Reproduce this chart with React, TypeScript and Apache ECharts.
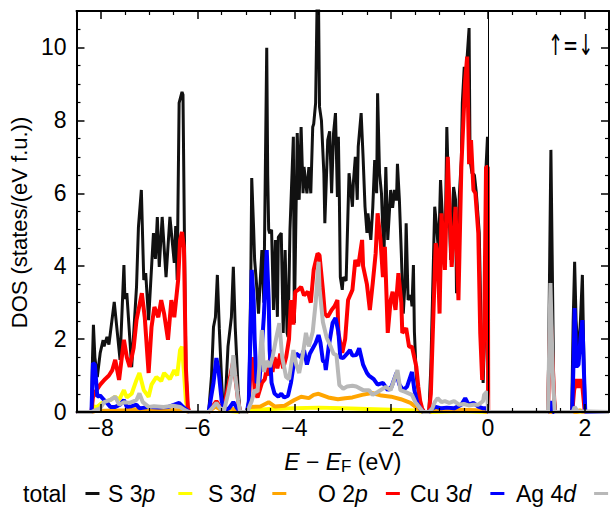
import React, { useEffect, useRef } from "react";
import * as echarts from "echarts";

const FONT = "'Liberation Sans', Arial, Helvetica, sans-serif";

const xRange = [-8.5, 2.5];
const yRange = [0, 11];
const seriesNames = ["total", "S 3p", "S 3d", "O 2p", "Cu 3d", "Ag 4d"];
const seriesColors = ["#111111", "#ffff00", "#ffa500", "#ff0000", "#0000ff", "#b8b8b8"];
const seriesWidths = [3, 4, 4, 4, 4, 4];

const totalDos: number[][] = [
  [-8.5, 0], [-8.19, 0], [-8.17, 1.43], [-8.15, 2.39], [-8.12, 1.5], [-8.07, 0.96], [-8.01, 1.62], [-7.95, 1.97],
  [-7.93, 1.8], [-7.87, 2.06], [-7.83, 1.85], [-7.72, 3.02], [-7.6, 1.43], [-7.52, 4.03], [-7.5, 3.1], [-7.46, 3.26],
  [-7.36, 1.23], [-7.26, 3.43], [-7.22, 5.08], [-7.16, 6.09], [-7.11, 3.62], [-7.07, 3.81], [-7.01, 2.52], [-6.91, 4.91],
  [-6.87, 4.2], [-6.83, 5.35], [-6.79, 3.98], [-6.73, 5.35], [-6.65, 3.7], [-6.57, 5.35], [-6.48, 4.09], [-6.45, 5.1],
  [-6.42, 3.62], [-6.4, 6.09], [-6.38, 8.48], [-6.32, 8.78], [-6.3, 8.7], [-6.27, 4.8], [-6.24, 1.2], [-6.2, 0.15], [-6.17, 0],
  [-5.77, 0], [-5.71, 1.0], [-5.67, 2.33], [-5.63, 2.6], [-5.59, 3.76], [-5.55, 2.3], [-5.5, 0.8], [-5.47, 0.1], [-5.43, 0.2],
  [-5.37, 1.8], [-5.3, 2.6], [-5.26, 3.98], [-5.22, 2.3], [-5.16, 0.6], [-5.12, 0],
  [-4.98, 0], [-4.94, 0.3], [-4.9, 3.5], [-4.88, 6.42], [-4.84, 5.0], [-4.82, 4.17], [-4.78, 3.5], [-4.74, 2.7], [-4.67, 4.44],
  [-4.63, 3.0], [-4.57, 9.99], [-4.55, 6.5], [-4.53, 5.0], [-4.51, 4.9], [-4.47, 5.0], [-4.43, 2.8], [-4.39, 4.72], [-4.35, 2.61],
  [-4.33, 4.8], [-4.27, 4.91], [-4.23, 2.17], [-4.19, 4.44], [-4.15, 2.17], [-4.13, 2.06], [-4.09, 5.0], [-4.02, 7.55], [-4.0, 2.44],
  [-3.94, 7.65], [-3.9, 5.82], [-3.86, 7.82], [-3.82, 6.0], [-3.8, 6.72], [-3.74, 6.0], [-3.7, 6.72], [-3.66, 6.0], [-3.62, 7.82],
  [-3.6, 7.9], [-3.56, 8.48], [-3.53, 11.2], [-3.5, 11.2], [-3.48, 8.37], [-3.44, 8.0], [-3.39, 6.55], [-3.37, 5.18], [-3.31, 7.46],
  [-3.27, 7.7], [-3.23, 6.0], [-3.19, 7.65], [-3.15, 8.2], [-3.11, 5.9], [-3.09, 7.55], [-3.07, 5.9], [-3.05, 3.7], [-3.01, 3.35],
  [-2.99, 3.7], [-2.93, 3.6], [-2.87, 6.55], [-2.8, 5.63], [-2.78, 6.3], [-2.74, 7.0], [-2.7, 5.82], [-2.68, 7.28], [-2.62, 8.2],
  [-2.58, 7.0], [-2.54, 5.63], [-2.5, 4.91], [-2.48, 5.45], [-2.42, 4.72], [-2.38, 5.6], [-2.34, 6.91], [-2.3, 6.0], [-2.28, 8.74],
  [-2.24, 6.55], [-2.2, 6.0], [-2.15, 4.17], [-2.11, 6.72], [-2.07, 4.72], [-2.01, 6.09], [-1.97, 5.6], [-1.93, 6.09], [-1.89, 5.8],
  [-1.87, 6.81], [-1.83, 5.82], [-1.79, 4.35], [-1.75, 2.7], [-1.71, 3.62], [-1.69, 5.18], [-1.65, 3.07], [-1.59, 3.2], [-1.57, 2.9],
  [-1.54, 4.03], [-1.52, 2.2], [-1.48, 0.96], [-1.42, 0.4], [-1.38, 0.14], [-1.32, 0],
  [-1.22, 0], [-1.18, 1.24], [-1.1, 5.63], [-1.06, 5.08], [-1.02, 4.35], [-0.98, 6.36], [-0.94, 5.3], [-0.89, 3.98], [-0.85, 7.82],
  [-0.81, 5.82], [-0.77, 4.17], [-0.75, 5.0], [-0.71, 6.17], [-0.67, 5.82], [-0.65, 3.26], [-0.59, 6.0], [-0.55, 6.91], [-0.53, 8.48],
  [-0.49, 9.47], [-0.47, 8.8], [-0.43, 9.75], [-0.39, 10.53], [-0.37, 6.91], [-0.33, 6.55], [-0.28, 6.5], [-0.24, 6.0], [-0.18, 4.91],
  [-0.14, 2.17], [-0.1, 0.8], [-0.06, 2.5], [-0.04, 6.72], [-0.01, 7.55], [0.005, 0],
  [1.24, 0], [1.3, 7.19], [1.36, 0.5], [1.4, 0], [1.73, 0], [1.76, 2.5], [1.79, 4.12], [1.82, 2.5], [1.87, 1.52], [1.91, 2.5],
  [1.95, 3.76], [1.98, 1.5], [2.01, 0], [2.5, 0],
];

const s3p: number[][] = [
  [-8.5, 0], [-8.19, 0], [-8.15, 0.15], [-8.07, 0.14], [-7.97, 0.25], [-7.8, 0.33], [-7.7, 0.42], [-7.62, 0.33], [-7.52, 0.6],
  [-7.46, 0.4], [-7.36, 0.5], [-7.26, 0.88], [-7.2, 1.07], [-7.11, 0.6], [-7.01, 0.42], [-6.95, 0.75], [-6.85, 0.96], [-6.75, 0.85],
  [-6.69, 1.07], [-6.57, 0.9], [-6.48, 1.15], [-6.42, 1.0], [-6.36, 1.7], [-6.32, 1.79], [-6.28, 1.1], [-6.24, 0.3], [-6.2, 0.05], [-6.17, 0],
  [-5.77, 0], [-5.63, 0.2], [-5.5, 0.05], [-5.12, 0],
  [-4.98, 0], [-4.94, 0.05], [-4.5, 0.08], [-4.0, 0.1], [-3.5, 0.12], [-3.0, 0.1], [-2.5, 0.08], [-2.0, 0.06], [-1.5, 0.04], [-1.34, 0],
  [-1.2, 0], [-0.6, 0.03], [0, 0], [2.5, 0],
];

const s3d: number[][] = [
  [-8.5, 0], [-8.19, 0], [-8.1, 0.03], [-7.5, 0.05], [-7.2, 0.08], [-6.8, 0.05], [-6.3, 0.05], [-6.17, 0],
  [-5.77, 0], [-5.63, 0.15], [-5.5, 0.05], [-5.3, 0.1], [-5.12, 0],
  [-4.98, 0], [-4.94, 0.14], [-4.7, 0.15], [-4.53, 0.27], [-4.4, 0.15], [-4.2, 0.17], [-4.0, 0.33], [-3.86, 0.42], [-3.7, 0.38],
  [-3.6, 0.47], [-3.5, 0.5], [-3.3, 0.4], [-3.1, 0.35], [-2.95, 0.38], [-2.8, 0.4], [-2.6, 0.47], [-2.4, 0.52], [-2.2, 0.45],
  [-2.0, 0.42], [-1.8, 0.35], [-1.6, 0.25], [-1.5, 0.15], [-1.4, 0.05], [-1.34, 0],
  [-1.22, 0], [-1.1, 0.05], [-0.6, 0.06], [-0.2, 0.05], [0.005, 0], [1.85, 0], [1.9, 0.05], [1.95, 0], [2.5, 0],
];

const o2p: number[][] = [
  [-8.5, 0], [-8.19, 0], [-8.16, 0.4], [-8.11, 0.55], [-8.01, 0.75], [-7.91, 0.9], [-7.83, 1.0], [-7.76, 1.15], [-7.7, 1.43],
  [-7.62, 0.88], [-7.52, 1.98], [-7.46, 1.5], [-7.4, 1.24], [-7.32, 1.75], [-7.26, 2.52], [-7.15, 3.26], [-7.09, 2.6], [-7.01, 1.07],
  [-6.95, 2.33], [-6.89, 2.88], [-6.81, 2.6], [-6.75, 3.07], [-6.69, 2.7], [-6.61, 1.98], [-6.54, 3.07], [-6.48, 2.6], [-6.4, 3.62],
  [-6.36, 4.72], [-6.32, 4.94], [-6.28, 4.5], [-6.24, 1.2], [-6.2, 0.14], [-6.17, 0],
  [-5.77, 0], [-5.61, 0.3], [-5.47, 0.02], [-5.26, 1.4], [-5.16, 0.3], [-5.12, 0],
  [-4.98, 0], [-4.94, 0.2], [-4.9, 1.3], [-4.86, 1.5], [-4.82, 0.6], [-4.76, 0.4], [-4.67, 0.8], [-4.61, 0.9], [-4.57, 1.2],
  [-4.53, 1.0], [-4.49, 1.7], [-4.45, 1.1], [-4.41, 1.5], [-4.35, 1.2], [-4.29, 1.6], [-4.23, 1.2], [-4.17, 1.5], [-4.11, 2.0],
  [-4.07, 3.07], [-4.02, 2.4], [-3.98, 3.3], [-3.92, 3.35], [-3.86, 3.43], [-3.8, 3.2], [-3.72, 3.3], [-3.66, 3.0], [-3.6, 3.9],
  [-3.52, 4.35], [-3.48, 4.3], [-3.41, 3.35], [-3.37, 2.7], [-3.31, 2.61], [-3.23, 2.8], [-3.17, 2.9], [-3.11, 3.07], [-3.09, 2.17],
  [-3.01, 1.62], [-2.95, 2.0], [-2.89, 3.07], [-2.8, 3.35], [-2.74, 4.17], [-2.68, 4.0], [-2.6, 4.72], [-2.58, 4.0], [-2.5, 3.5],
  [-2.44, 2.8], [-2.38, 3.54], [-2.32, 4.35], [-2.28, 5.45], [-2.22, 4.72], [-2.17, 3.7], [-2.13, 4.53], [-2.07, 2.17], [-2.01, 3.07],
  [-1.97, 3.3], [-1.91, 2.8], [-1.85, 3.81], [-1.79, 3.0], [-1.77, 2.17], [-1.69, 2.3], [-1.63, 1.79], [-1.57, 1.79], [-1.48, 1.24],
  [-1.44, 0.7], [-1.4, 0.3], [-1.36, 0.1], [-1.32, 0],
  [-1.22, 0], [-1.18, 0.5], [-1.08, 4.63], [-1.04, 4.35], [-1.0, 2.7], [-0.96, 5.45], [-0.89, 3.9], [-0.83, 7.0], [-0.79, 5.5],
  [-0.75, 3.98], [-0.67, 5.63], [-0.61, 3.07], [-0.55, 6.72], [-0.51, 7.92], [-0.47, 9.1], [-0.43, 9.75], [-0.39, 6.8], [-0.35, 7.46],
  [-0.3, 6.09], [-0.26, 6.0], [-0.2, 4.91], [-0.16, 2.17], [-0.12, 0.88], [-0.08, 2.0], [-0.04, 6.72], [-0.005, 6.72], [0.005, 0],
  [1.24, 0], [1.29, 2.8], [1.33, 1.5], [1.38, 0], [1.74, 0], [1.78, 0.6], [1.83, 0.9], [1.87, 0.66], [1.91, 0.9], [1.95, 0.7],
  [2.0, 0], [2.5, 0],
];

const cu3d: number[][] = [
  [-8.5, 0], [-8.19, 0], [-8.16, 1.34], [-8.12, 1.3], [-8.07, 0.42], [-8.01, 0.45], [-7.93, 0.33], [-7.87, 0.25], [-7.8, 0.14],
  [-7.7, 0.14], [-7.6, 0.2], [-7.52, 0.33], [-7.46, 0.14], [-7.36, 0.16], [-7.26, 0.2], [-7.2, 0.1], [-7.0, 0.14], [-6.8, 0.12],
  [-6.6, 0.14], [-6.38, 0.25], [-6.3, 0.14], [-6.22, 0.05], [-6.17, 0],
  [-5.77, 0], [-5.67, 0.8], [-5.61, 1.48], [-5.57, 1.2], [-5.5, 0.3], [-5.45, 0.05], [-5.35, 0.1], [-5.26, 0.27], [-5.18, 0.1], [-5.12, 0],
  [-4.98, 0], [-4.94, 0.3], [-4.9, 2.5], [-4.88, 3.9], [-4.84, 3.07], [-4.82, 2.0], [-4.78, 0.8], [-4.72, 0.85], [-4.63, 2.61],
  [-4.57, 4.44], [-4.53, 3.07], [-4.51, 1.7], [-4.47, 0.8], [-4.41, 0.51], [-4.33, 0.42], [-4.27, 0.5], [-4.21, 0.4], [-4.13, 0.45],
  [-4.07, 0.8], [-4.0, 1.43], [-3.96, 1.6], [-3.86, 1.5], [-3.8, 1.7], [-3.74, 1.3], [-3.68, 1.6], [-3.56, 1.89], [-3.5, 2.11],
  [-3.46, 1.9], [-3.41, 1.4], [-3.37, 1.37], [-3.35, 1.15], [-3.29, 1.8], [-3.21, 2.44], [-3.15, 2.58], [-3.09, 2.2], [-3.05, 1.5],
  [-2.99, 1.48], [-2.91, 1.6], [-2.85, 1.7], [-2.8, 1.55], [-2.72, 1.56], [-2.66, 1.75], [-2.58, 1.3], [-2.5, 1.07], [-2.46, 1.0],
  [-2.36, 0.9], [-2.28, 0.75], [-2.17, 0.8], [-2.07, 0.6], [-1.99, 0.7], [-1.89, 1.07], [-1.83, 0.75], [-1.75, 0.6], [-1.67, 0.7],
  [-1.57, 1.1], [-1.52, 0.6], [-1.46, 0.25], [-1.4, 0.1], [-1.34, 0],
  [-1.22, 0], [-1.15, 0.1], [-1.08, 0.14], [-0.96, 0.1], [-0.85, 0.12], [-0.7, 0.1], [-0.55, 0.2], [-0.47, 0.38], [-0.4, 0.2],
  [-0.3, 0.25], [-0.2, 0.15], [-0.1, 0.1], [-0.02, 0.1], [0.005, 0],
  [1.24, 0], [1.28, 0.1], [1.31, 0.3], [1.34, 0], [1.74, 0], [1.77, 1.5], [1.79, 2.85], [1.83, 1.24], [1.87, 1.3], [1.91, 2.0],
  [1.95, 2.52], [1.98, 1.2], [2.01, 0], [2.5, 0],
];

const ag4d: number[][] = [
  [-8.5, 0], [-8.19, 0], [-8.11, 0.05], [-8.01, 0.1], [-7.93, 0.27], [-7.8, 0.33], [-7.7, 0.42], [-7.62, 0.2], [-7.52, 0.27],
  [-7.4, 0.25], [-7.26, 0.33], [-7.2, 0.51], [-7.13, 0.27], [-7.01, 0.14], [-6.9, 0.16], [-6.7, 0.14], [-6.5, 0.17], [-6.36, 0.14],
  [-6.26, 0.05], [-6.17, 0],
  [-5.77, 0], [-5.67, 0.15], [-5.61, 0.25], [-5.53, 0.1], [-5.45, 0.05], [-5.37, 0.5], [-5.3, 1.0], [-5.26, 1.56], [-5.22, 1.0],
  [-5.16, 0.3], [-5.12, 0],
  [-4.98, 0], [-4.94, 0.1], [-4.88, 0.3], [-4.82, 0.6], [-4.76, 0.55], [-4.67, 2.25], [-4.63, 1.1], [-4.57, 1.4], [-4.51, 1.24],
  [-4.45, 1.5], [-4.37, 2.06], [-4.31, 2.44], [-4.25, 1.5], [-4.17, 0.96], [-4.11, 0.9], [-4.02, 1.7], [-3.96, 1.3], [-3.9, 1.07],
  [-3.82, 1.62], [-3.76, 2.17], [-3.7, 1.8], [-3.62, 2.2], [-3.56, 2.99], [-3.5, 4.12], [-3.48, 3.4], [-3.41, 2.47], [-3.33, 2.03],
  [-3.25, 1.8], [-3.19, 1.6], [-3.13, 1.56], [-3.07, 0.74], [-2.99, 0.64], [-2.91, 0.7], [-2.8, 0.72], [-2.72, 0.7], [-2.58, 0.6],
  [-2.46, 0.6], [-2.38, 0.47], [-2.28, 0.55], [-2.11, 0.69], [-2.01, 0.6], [-1.87, 1.15], [-1.81, 0.6], [-1.71, 0.55], [-1.57, 0.47],
  [-1.5, 0.27], [-1.4, 0.1], [-1.34, 0],
  [-1.22, 0], [-1.15, 0.1], [-1.1, 0.27], [-1.04, 0.38], [-0.96, 0.27], [-0.89, 0.3], [-0.8, 0.25], [-0.7, 0.3], [-0.6, 0.2],
  [-0.5, 0.22], [-0.4, 0.18], [-0.3, 0.2], [-0.2, 0.2], [-0.1, 0.3], [-0.08, 0.47], [-0.02, 0.56], [0.005, 0],
  [1.24, 0], [1.29, 3.54], [1.34, 1.0], [1.38, 0], [1.75, 0], [1.79, 0.14], [1.85, 0.02], [2.5, 0],
];

const seriesData = [totalDos, s3p, s3d, o2p, cu3d, ag4d];
const legendLefts = [23, 108, 208, 318, 410, 516];
const legendPads = [14, 18, 12, 13, 14, 13];

const fmtTick = (v: number, maxShown: number) => {
  if (Math.abs(v % 2) > 1e-9 || v > maxShown) return "";
  return v < 0 ? "\u2212" + Math.abs(v) : String(v);
};

export default function App() {
  const ref = useRef<HTMLDivElement>(null);
  useEffect(() => {
    if (!ref.current) return;
    const chart = echarts.init(ref.current, undefined, { renderer: "svg" });
    const tickCommon = {
      axisLine: { show: true, onZero: false, lineStyle: { color: "#000", width: 2 } },
      axisTick: { show: true, inside: true, length: 8, lineStyle: { color: "#000", width: 1.5 } },
      minorTick: { show: true, splitNumber: 4, length: 4, lineStyle: { color: "#000", width: 1.2 } },
      splitLine: { show: false },
      minorSplitLine: { show: false },
    };
    const textBase = { fontFamily: FONT, fontSize: 23, color: "#000" };
    const option: any = {
      animation: false,
      backgroundColor: "#fff",
      grid: { left: 73, top: 11, width: 541, height: 401, containLabel: false },
      xAxis: [
        {
          type: "value", min: xRange[0], max: xRange[1], position: "bottom", z: 5, ...tickCommon,
          axisLabel: { ...textBase, margin: 4, formatter: (v: number) => fmtTick(v, 10) },
          name: "{i|E} \u2212 {i|E}{sub|F} (eV)",
          nameLocation: "middle", nameGap: 36,
          nameTextStyle: {
            ...textBase,
            rich: {
              i: { ...textBase, fontStyle: "italic" },
              sub: { fontFamily: FONT, fontSize: 17, color: "#000", verticalAlign: "bottom", padding: [10, 0, 0, 0] },
            },
          },
        },
        {
          type: "value", min: xRange[0], max: xRange[1], position: "top", z: 5, ...tickCommon,
          axisLabel: { show: false },
        },
      ],
      yAxis: [
        {
          type: "value", min: yRange[0], max: yRange[1], interval: 2, position: "left", z: 5, ...tickCommon,
          axisLabel: { ...textBase, margin: 10, formatter: (v: number) => fmtTick(v, 10) },
          name: "DOS (states/(eV f.u.))", nameLocation: "middle", nameGap: 38,
          nameTextStyle: { ...textBase, fontSize: 22, padding: [0, 22, 0, 0] },
        },
        {
          type: "value", min: yRange[0], max: yRange[1], interval: 2, position: "right", z: 5, ...tickCommon,
          axisLabel: { show: false },
        },
      ],
      legend: seriesNames.map((n, i) => ({
        data: [n],
        left: legendLefts[i],
        top: 482,
        padding: 0,
        align: "right",
        icon: "rect",
        itemWidth: 14,
        itemHeight: 3,
        selectedMode: false,
        formatter: (name: string) => name.replace(/([pd])$/, "{i|$1}") + "{g|}",
        textStyle: {
          ...textBase,
          rich: {
            i: { ...textBase, fontStyle: "italic" },
            g: { width: legendPads[i] },
          },
        },
      })),
      graphic: [
        {
          type: "text", x: 548, y: 31, scaleX: 1, scaleY: 1.6,
          style: { text: "\u2191=\u2193", fontFamily: "'DejaVu Sans', sans-serif", fontSize: 18, fill: "#000000" },
        },
      ],
      series: seriesNames.map((n, i) => ({
        type: "line",
        name: n,
        data: seriesData[i],
        showSymbol: false,
        symbol: "none",
        silent: true,
        clip: true,
        lineStyle: { color: seriesColors[i], width: seriesWidths[i] },
        itemStyle: { color: seriesColors[i] },
        ...(i === 0
          ? {
              markLine: {
                silent: true,
                symbol: ["none", "none"],
                label: { show: false },
                lineStyle: { color: "#000", width: 1, type: "solid" },
                data: [{ xAxis: 0 }],
              },
            }
          : {}),
      })),
    };
    chart.setOption(option);
    return () => chart.dispose();
  }, []);
  return (
    <div
      ref={ref}
      style={{ position: "fixed", left: 0, top: 0, width: 612, height: 510, background: "#fff" }}
    />
  );
}
